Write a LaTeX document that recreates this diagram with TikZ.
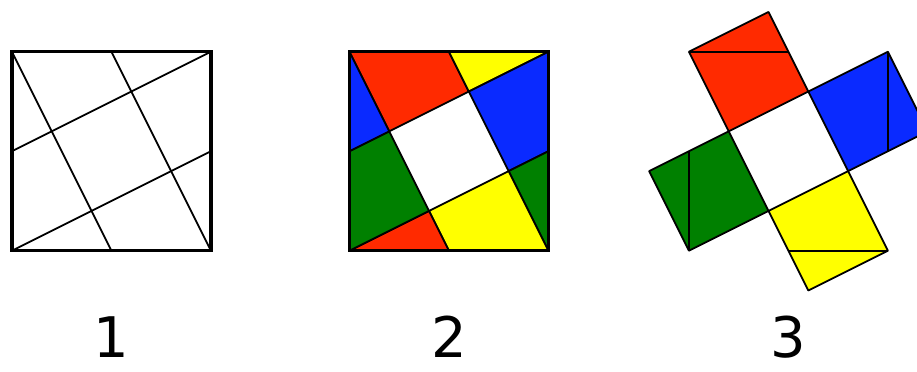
\documentclass[tikz,border=0pt]{standalone}
\usepackage{fontspec}
\newfontfamily\numfont{DejaVu Sans}
\definecolor{pred}{RGB}{255,42,0}
\definecolor{pblue}{RGB}{10,42,255}
\definecolor{pgreen}{RGB}{0,128,0}
\definecolor{pyellow}{RGB}{255,255,0}
\tikzset{
  frame/.style={line width=1pt},
  cut/.style={line width=0.5pt},
  piece/.style={draw=black, line width=0.5pt, line join=round},
  num/.style={font=\numfont\fontsize{16}{16}\selectfont, anchor=base, inner sep=0pt}
}

\begin{document}
\begin{tikzpicture}
  \clip (-0.12,-1.21) rectangle (9.096,2.52);
  % 1: square with the four cuts
  \foreach \a in {0,-90,-180,-270} {
    \draw[cut, rotate around={\a:(1,1)}] (0,2) -- (1,0);
  }
  \draw[frame] (0,0) rectangle (2,2);
  \node[num] (l1) at (1,-1.07) {1};
  % 2: coloured pieces
  \begin{scope}[xshift=3.392cm]
    \foreach \a/\q/\t in {0/pred/pyellow, -90/pblue/pgreen, -180/pyellow/pred, -270/pgreen/pblue} {
      \begin{scope}[rotate around={\a:(1,1)}]
        \filldraw[piece, fill=\q] (0,2) -- (1,2) -- (1.2,1.6) -- (0.4,1.2) -- cycle;
        \filldraw[piece, fill=\t] (1,2) -- (2,2) -- (1.2,1.6) -- cycle;
      \end{scope}
    }
    \draw[frame] (0,0) rectangle (2,2);
    \node[num] (l2) at (1,-1.07) {2};
  \end{scope}
  % 3: pieces moved out
  \begin{scope}[xshift=6.804cm]
    \foreach \a/\q in {0/pred, -90/pblue, -180/pyellow, -270/pgreen} {
      \begin{scope}[rotate around={\a:(1,1)}]
        \filldraw[piece, fill=\q] (0.4,1.2) -- (1.2,1.6) -- (0.8,2.4) -- (0,2) -- cycle;
        \draw[cut] (0,2) -- (1,2);
      \end{scope}
    }
    \node[num] (l3) at (1,-1.07) {3};
  \end{scope}
\end{tikzpicture}
\end{document}
